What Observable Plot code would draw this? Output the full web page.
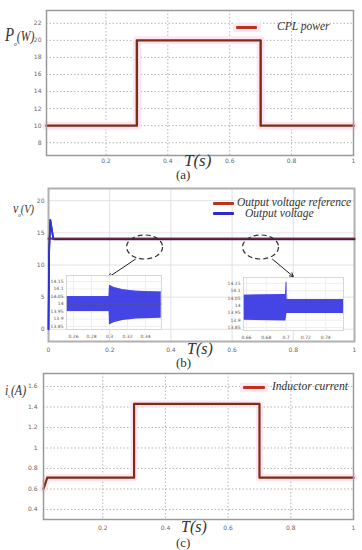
<!DOCTYPE html>
<html><head><meta charset="utf-8">
<script src="https://cdn.jsdelivr.net/npm/d3@7"></script>
<script src="https://cdn.jsdelivr.net/npm/@observablehq/plot@0.6"></script>
<style>
body{margin:0;background:#fff}
#root{position:relative;width:362px;height:550px;background:#fff;overflow:hidden}
.abs{position:absolute}
.lab{position:absolute;font-family:"Liberation Serif",serif;font-style:italic;color:#333;white-space:nowrap;line-height:1;transform-origin:0 0}
.cap{position:absolute;font-family:"Liberation Serif",serif;color:#333;font-size:13px;line-height:1}
.sw{position:absolute;height:3px;border-radius:1px}
</style></head><body><div id="root"></div>
<script>
// ---------- Panel (a): CPL power ----------
const tA = [0.008, 0.3, 0.3, 0.7, 0.7, 1];
const pA = [10, 10, 20, 20, 10, 10];
const xTicksA = [0.2, 0.4, 0.6, 0.8, 1];
const yTicksA = [8, 10, 12, 14, 16, 18, 20, 22];

// ---------- Panel (b): output voltage ----------
const tRef = [0, 1];
const vRef = [14, 14];
const tOut = [0, 0.002, 0.006, 0.016, 1];
const vOut = [0, 12, 17, 14, 14];
const xTicksB = [0, 0.2, 0.4, 0.6, 0.8, 1];
const yTicksB = [0, 5, 10, 15, 20];
const zoomX = [0.314, 0.693];
const zoomY = [12.8, 12.8];
const arrX1 = [0.284, 0.732], arrY1 = [10.9, 10.9];
const arrX2 = [0.196, 0.800], arrY2 = [8.1, 8.2];

// inset 1 (load step at 0.3 s)
const tIn1 = [0.2525, 0.2995, 0.3, 0.305, 0.315, 0.33, 0.3575];
const topIn1 = [14.05, 14.05, 14.125, 14.11, 14.095, 14.085, 14.08];
const botIn1 = [13.95, 13.95, 13.86, 13.875, 13.89, 13.9, 13.905];
const xTicksIn1 = [0.26, 0.28, 0.3, 0.32, 0.34];
// inset 2 (load step at 0.7 s)
const tIn2 = [0.657, 0.6995, 0.7, 0.7008, 0.758];
const topIn2 = [14.07, 14.075, 14.16, 14.04, 14.04];
const botIn2 = [13.9, 13.895, 13.9, 13.945, 13.945];
const xTicksIn2 = [0.66, 0.68, 0.7, 0.72, 0.74];
const yTicksIn = [13.85, 13.9, 13.95, 14, 14.05, 14.1, 14.15];

// ---------- Panel (c): inductor current ----------
const tC = [0.011, 0.023, 0.3, 0.3, 0.7, 0.7, 1];
const iC = [0.6, 0.71, 0.71, 1.43, 1.43, 0.71, 0.71];
const xTicksC = [0.2, 0.4, 0.6, 0.8, 1];
const yTicksC = [0.4, 0.6, 0.8, 1, 1.2, 1.4, 1.6];

const root = document.getElementById("root");
function place(el, left, top) {
  const d = document.createElement("div");
  d.className = "abs"; d.style.left = left + "px"; d.style.top = top + "px";
  d.appendChild(el); root.appendChild(d); return d;
}
function html(s) { root.insertAdjacentHTML("beforeend", s); }
const fmt = d => String(d);
const baseStyle = {fontSize: "6px", color: "#666", background: "transparent", fontFamily: "DejaVu Sans, sans-serif"};

const brown = "#7a2f10", red = "#b8341c", blue = "#2b2bd0";

// Panel A
const dataA = tA.map((t, i) => ({t, p: pA[i]}));
place(Plot.plot({
  width: 362, height: 185,
  marginLeft: 46, marginRight: 9, marginTop: 10, marginBottom: 30,
  style: baseStyle,
  x: {domain: [0.008, 1], ticks: xTicksA, tickSize: 0, tickPadding: 3, tickFormat: fmt, label: null},
  y: {domain: [6.5, 23.5], ticks: yTicksA, tickSize: 0, tickPadding: 5, tickFormat: fmt, label: null},
  marks: [
    Plot.ruleX(xTicksA, {stroke: "#b5b5b5", strokeDasharray: "1.5,2"}),
    Plot.ruleY(yTicksA, {stroke: "#b5b5b5", strokeDasharray: "1.5,2"}),
    Plot.line(dataA, {x: "t", y: "p", stroke: "#ffe4f4", strokeWidth: 8}),
    Plot.line(dataA, {x: "t", y: "p", stroke: brown, strokeWidth: 2.4}),
    Plot.frame({stroke: "#9a9a9a", strokeWidth: 1.5})
  ]
}), 0, 0);

// Panel B
const refB = tRef.map((t, i) => ({t, v: vRef[i]}));
const outB = tOut.map((t, i) => ({t, v: vOut[i]}));
const ellipse = {draw(ctx, size) {
  const r = Math.sqrt(size / Math.PI), a = 1.5 * r, b = r, k = 0.5523;
  ctx.moveTo(a, 0);
  ctx.bezierCurveTo(a, b * k, a * k, b, 0, b);
  ctx.bezierCurveTo(-a * k, b, -a, b * k, -a, 0);
  ctx.bezierCurveTo(-a, -b * k, -a * k, -b, 0, -b);
  ctx.bezierCurveTo(a * k, -b, a, -b * k, a, 0);
  ctx.closePath();
}};
const zooms = zoomX.map((x, i) => ({x, y: zoomY[i]}));
const arrows = arrX1.map((x1, i) => ({x1, y1: arrY1[i], x2: arrX2[i], y2: arrY2[i]}));
place(Plot.plot({
  width: 362, height: 175,
  marginLeft: 48, marginRight: 8, marginTop: 3, marginBottom: 19,
  style: baseStyle,
  x: {domain: [0, 1], ticks: xTicksB, tickSize: 0, tickPadding: 6, tickFormat: fmt, label: null},
  y: {domain: [-1.9, 21.9], ticks: yTicksB, tickSize: 0, tickPadding: 4, tickFormat: fmt, label: null},
  marks: [
    Plot.ruleX(xTicksB, {stroke: "#e2e2e2"}),
    Plot.ruleY(yTicksB, {stroke: "#e2e2e2"}),
    Plot.frame({stroke: "#b0b0b0", strokeWidth: 2}),
    Plot.line(refB, {x: "t", y: "v", stroke: red, strokeWidth: 2.2, dy: -0.6}),
    Plot.line(outB, {x: "t", y: "v", stroke: "#24247a", strokeWidth: 1.8}),
    Plot.line(outB.slice(0, 4), {x: "t", y: "v", stroke: "#3333dd", strokeWidth: 1.6}),
    Plot.dot(zooms, {x: "x", y: "y", r: 12, symbol: ellipse, fill: "none", stroke: "#333", strokeWidth: 1.2, strokeDasharray: "5,3"}),
    Plot.arrow(arrows, {x1: "x1", y1: "y1", x2: "x2", y2: "y2", stroke: "#222", strokeWidth: 1, headLength: 6})
  ]
}), 0, 185);

function inset(t, top, bot, xt, xdom, w, h, ml, mb) {
  const band = t.map((x, i) => ({x, y1: bot[i], y2: top[i]}));
  const mid = [{x: xdom[0], y: 14}, {x: xdom[1], y: 14}];
  return Plot.plot({
    width: w, height: h, marginLeft: ml, marginRight: 2, marginTop: 3, marginBottom: mb,
    style: {fontSize: "4.5px", color: "#555", background: "transparent", fontFamily: "DejaVu Sans, sans-serif"},
    x: {domain: xdom, ticks: xt, tickSize: 0, tickPadding: 5, tickFormat: fmt, label: null},
    y: {domain: [13.83, 14.19], ticks: yTicksIn, tickSize: 0, tickPadding: 3, tickFormat: fmt, label: null},
    marks: [
      Plot.frame({fill: "white"}),
      Plot.ruleX(xt, {stroke: "#eeeeee"}),
      Plot.ruleY(yTicksIn, {stroke: "#eeeeee"}),
      Plot.areaY(band, {x: "x", y1: "y1", y2: "y2", fill: "#2525e0", fillOpacity: 0.85, curve: "linear"}),
      Plot.lineY(band, {x: "x", y: "y2", stroke: "#4a4aff", strokeWidth: 0.6}),
      Plot.line(mid, {x: "x", y: "y", stroke: "#555577", strokeWidth: 0.8}),
      Plot.frame({stroke: "#cfcfcf", strokeWidth: 0.8})
    ]
  });
}
place(inset(tIn1, topIn1, botIn1, xTicksIn1, [0.2522, 0.3578], 119, 72, 22, 15), 44, 272);
place(inset(tIn2, topIn2, botIn2, xTicksIn2, [0.657, 0.758], 124, 70, 22, 14), 221, 274);

// Panel C
const dataC = tC.map((t, i) => ({t, i: iC[i]}));
place(Plot.plot({
  width: 362, height: 190,
  marginLeft: 43, marginRight: 9, marginTop: 13, marginBottom: 31,
  style: baseStyle,
  x: {domain: [0.011, 1], ticks: xTicksC, tickSize: 0, tickPadding: 6, tickFormat: fmt, label: null},
  y: {domain: [0.302, 1.727], ticks: yTicksC, tickSize: 0, tickPadding: 6, tickFormat: fmt, label: null},
  marks: [
    Plot.ruleX(xTicksC, {stroke: "#b5b5b5", strokeDasharray: "1.5,2"}),
    Plot.ruleY(yTicksC, {stroke: "#b5b5b5", strokeDasharray: "1.5,2"}),
    Plot.line(dataC, {x: "t", y: "i", stroke: "#ffe4f4", strokeWidth: 7}),
    Plot.line(dataC, {x: "t", y: "i", stroke: brown, strokeWidth: 2.2}),
    Plot.frame({stroke: "#9a9a9a", strokeWidth: 1.5})
  ]
}), 0, 360);

// ---------- Text overlays: axis titles, captions, legends ----------
html(`<div class="lab" style="left:5px;top:25px;transform:scaleX(0.78)"><span style="font-size:19px">P</span><span style="font-size:7px;position:relative;top:5px">o</span><span style="font-size:15px">(W)</span></div>`);
html(`<div class="lab" style="left:184px;top:152px;font-size:17px">T(s)</div>`);
html(`<div class="cap" style="left:176px;top:168px">(a)</div>`);
html(`<div class="sw" style="left:233px;top:23px;width:28px;height:9px;background:#ffe6f5"></div>`);
html(`<div class="sw" style="left:236px;top:26px;width:21px;background:${red}"></div>`);
html(`<div class="lab" style="left:277px;top:21px;font-size:11.5px">CPL power</div>`);

html(`<div class="lab" style="left:13px;top:200px;transform:scaleX(0.8)"><span style="font-size:15px">v</span><span style="font-size:6px;position:relative;top:4px">o</span><span style="font-size:13px">(V)</span></div>`);
html(`<div class="lab" style="left:187px;top:341px;font-size:16px">T(s)</div>`);
html(`<div class="cap" style="left:176px;top:356px">(b)</div>`);
html(`<div class="sw" style="left:213px;top:202px;width:21px;background:${red}"></div>`);
html(`<div class="sw" style="left:213px;top:212px;width:21px;background:${blue}"></div>`);
html(`<div class="lab" style="left:237px;top:197px;font-size:11.5px">Output voltage reference</div>`);
html(`<div class="lab" style="left:245px;top:208px;font-size:11.5px">Output voltage</div>`);

html(`<div class="lab" style="left:5px;top:384px;font-size:14px;transform:scaleX(0.85)">i<span style="font-size:5px;position:relative;top:3px;font-style:normal">L</span>(A)</div>`);
html(`<div class="lab" style="left:181px;top:519px;font-size:16px">T(s)</div>`);
html(`<div class="cap" style="left:176px;top:536px">(c)</div>`);
html(`<div class="sw" style="left:240px;top:383px;width:28px;height:9px;background:#ffe6f5"></div>`);
html(`<div class="sw" style="left:243px;top:386px;width:22px;background:${red}"></div>`);
html(`<div class="lab" style="left:272px;top:381px;font-size:11.5px">Inductor current</div>`);
</script></body></html>
